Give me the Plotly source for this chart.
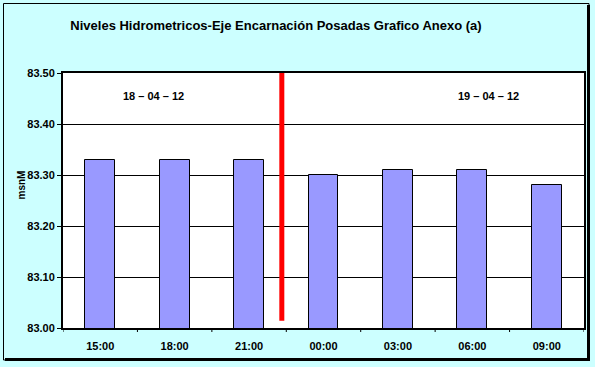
import plotly.graph_objects as go

categories = ["15:00", "18:00", "21:00", "00:00", "03:00", "06:00", "09:00"]
values = [83.33, 83.33, 83.33, 83.30, 83.31, 83.31, 83.28]
y_ticks = [83.00, 83.10, 83.20, 83.30, 83.40, 83.50]
y_tick_labels = ["83.00", "83.10", "83.20", "83.30", "83.40", "83.50"]
date_labels = ["18 – 04 – 12", "19 – 04 – 12"]
date_label_pos = [0.71, 5.22]
separator_pos = 2.44
separator_range = [83.014, 83.5]

W, H = 595, 367
L, R, T, B = 63, 11, 73, 39
pw, ph = W - L - R, H - T - B

def px_x(p):
    return (p - L) / pw

def px_y(p):
    return (H - B - p) / ph

fig = go.Figure()
fig.add_trace(go.Bar(
    x=list(range(len(categories))), y=values, width=0.4,
    marker=dict(color="#9999FF", line=dict(color="#000000", width=1)),
    base=0, hoverinfo="skip",
))

font = "Arial, Liberation Sans, sans-serif"

fig.update_layout(
    width=W, height=H,
    margin=dict(l=L, r=R, t=T, b=B, autoexpand=False),
    paper_bgcolor="#CCFFFF", plot_bgcolor="#FFFFFF",
    showlegend=False,
    bargap=0,
    title=dict(text="<b>Niveles Hidrometricos-Eje Encarnación Posadas Grafico Anexo (a)</b>",
               x=276 / W, xanchor="center",
               y=1 - 25 / H, yanchor="middle",
               font=dict(family=font, size=13, color="#000000")),
    xaxis=dict(
        range=[-0.5, 6.5],
        tickmode="array",
        tickvals=list(range(len(categories))),
        ticktext=["<b>%s</b>" % c for c in categories],
        tickfont=dict(family=font, size=11, color="#000000"),
        showgrid=False, zeroline=False,
        showline=True, linecolor="#000000", linewidth=2, mirror=True,
        ticks="", ticklabelstandoff=7, fixedrange=True,
    ),
    yaxis=dict(
        range=[83.0, 83.5],
        tickmode="array", tickvals=y_ticks,
        ticktext=["<b>%s</b>" % t for t in y_tick_labels],
        tickfont=dict(family=font, size=11, color="#000000"),
        showgrid=True, gridcolor="#000000", gridwidth=1,
        zeroline=False,
        showline=True, linecolor="#000000", linewidth=2, mirror=True,
        ticks="outside", ticklen=4, tickcolor="#000000", tickwidth=1,
        fixedrange=True,
    ),
)

# y axis title
fig.add_annotation(x=px_x(13), y=px_y(185), xref="paper", yref="paper",
                   text="<b>msnM</b>", textangle=-90, showarrow=False,
                   font=dict(family=font, size=10, color="#000000"))

# x tick marks between categories
for i in range(len(categories) + 1):
    fig.add_shape(type="line", xref="x", yref="paper",
                  x0=i - 0.5, x1=i - 0.5, y0=0, y1=-4 / ph,
                  line=dict(color="#000000", width=1))

# separator line
fig.add_shape(type="line", xref="x", yref="y",
              x0=separator_pos, x1=separator_pos,
              y0=separator_range[0], y1=separator_range[1],
              line=dict(color="#FF0000", width=5))

for lab, pos in zip(date_labels, date_label_pos):
    fig.add_annotation(x=pos, y=83.455, xref="x", yref="y", text="<b>%s</b>" % lab,
                       showarrow=False, font=dict(family=font, size=11, color="#000000"))

# outer frame
fig.add_shape(type="rect", xref="paper", yref="paper",
              x0=px_x(3.5), x1=px_x(589), y0=px_y(360), y1=px_y(3.5),
              line=dict(color="#000000", width=1), layer="above")
fig.add_shape(type="line", xref="paper", yref="paper", x0=px_x(588.5), x1=px_x(588.5),
              y0=px_y(361), y1=px_y(5), line=dict(color="#000000", width=3))
fig.add_shape(type="line", xref="paper", yref="paper", x0=px_x(5), x1=px_x(590),
              y0=px_y(359.5), y1=px_y(359.5), line=dict(color="#000000", width=3))

fig.write_html("out.html", config={"displayModeBar": False},
               post_script="document.body.style.margin='0';")
